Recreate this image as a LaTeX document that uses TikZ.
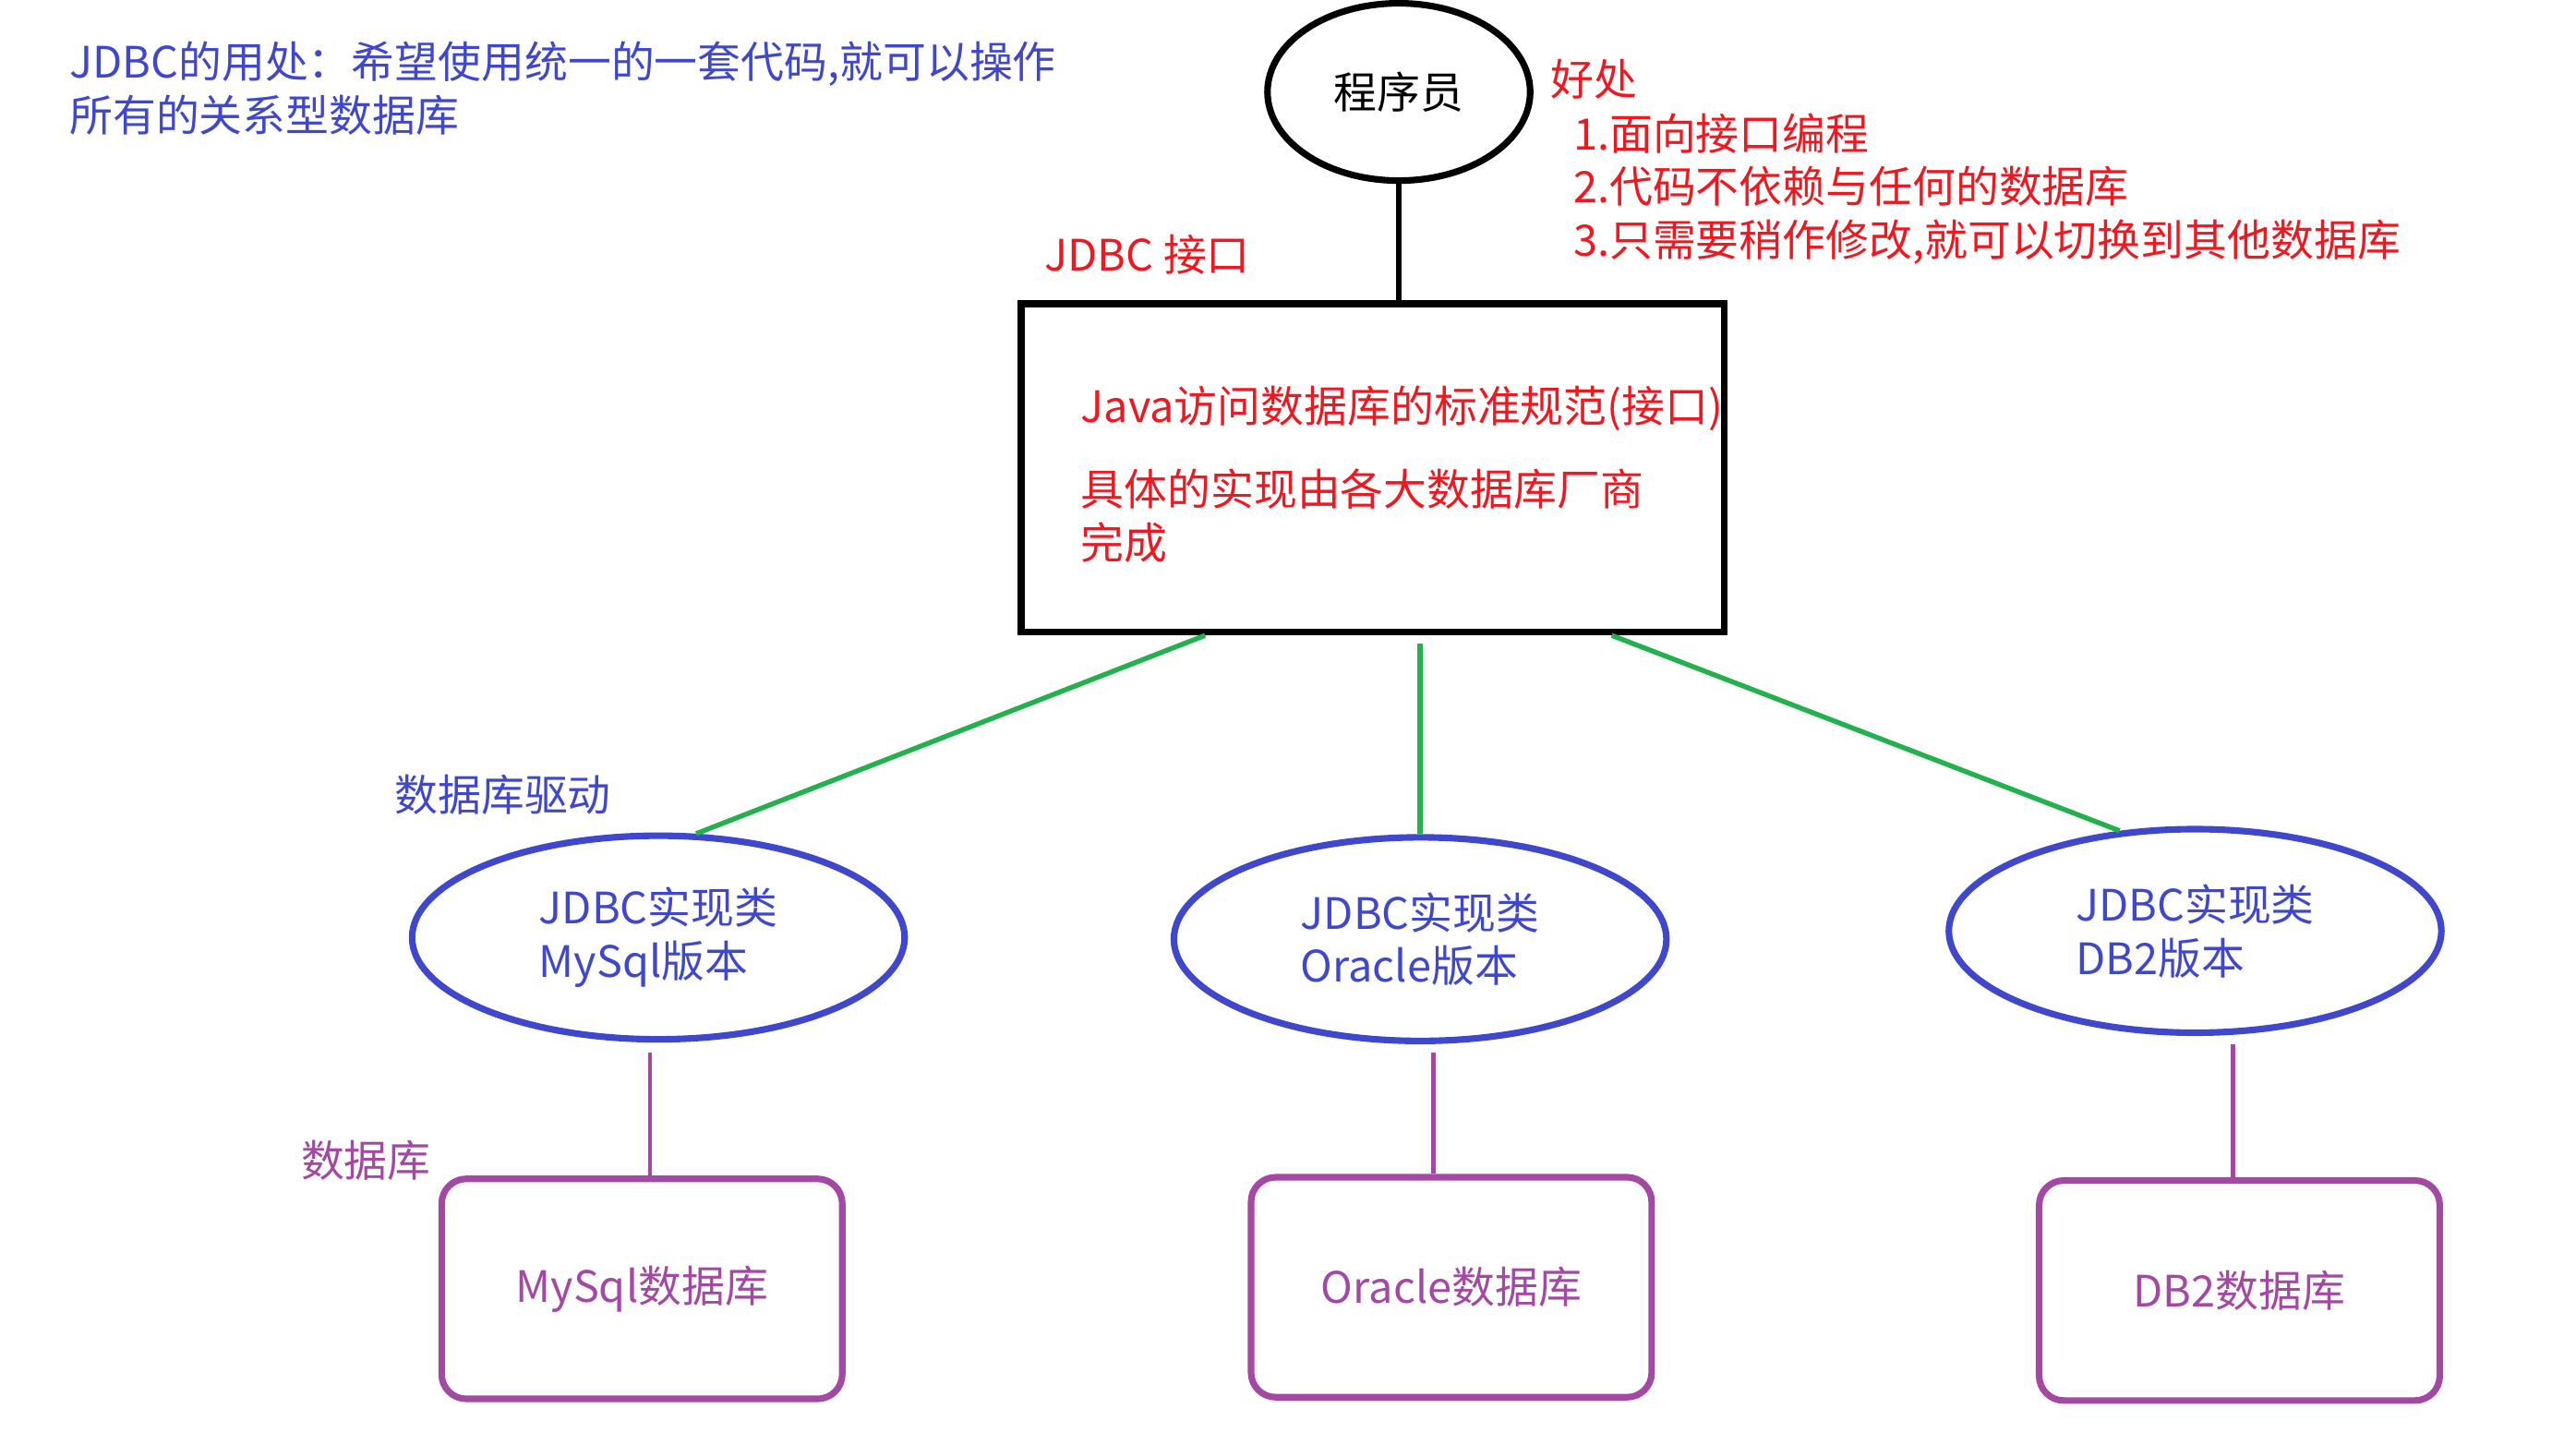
\documentclass[tikz,border=0pt]{standalone}
\usepackage{fontspec}
\setmainfont{Noto Sans CJK SC}
\usetikzlibrary{calc,positioning,shapes.geometric}
\definecolor{jblue}{RGB}{63,72,204}
\definecolor{jgreen}{RGB}{34,177,76}
\definecolor{jpurple}{RGB}{163,73,164}
\definecolor{jred}{RGB}{240,24,32}
\tikzset{
	txt/.style={font=\fontsize{15}{18.5}\selectfont, inner sep=0pt, anchor=west, align=left},
	coder/.style={ellipse, draw, line width=0.8mm, minimum width=32mm, minimum height=21.6mm, inner sep=0pt, font=\fontsize{15}{18.5}\selectfont},
	spec/.style={rectangle, draw, line width=0.8mm, minimum width=85.6mm, minimum height=40mm},
	driver/.style={ellipse, draw=jblue, line width=0.8mm, minimum width=60mm, minimum height=24.8mm, inner sep=0pt, text=jblue, align=left, font=\fontsize{15}{18.5}\selectfont},
	dbbox/.style={rectangle, rounded corners=3mm, draw=jpurple, line width=0.8mm, minimum width=48.8mm, minimum height=26.8mm, text=jpurple, font=\fontsize{15}{18.5}\selectfont}
}

\begin{document}
\begin{tikzpicture}[x=0.2mm, y=-0.2mm]
		%%%%% START %%%%%
		\useasboundingbox (0, 0) rectangle (1569, 880);
		
		\node[txt, text=jblue] (usage) at (42, 54) {JDBC的用处：希望使用统一的一套代码,就可以操作\\所有的关系型数据库};
		
		\node[coder] (prog) at (852, 56) {程序员};
		\node[txt, text=jred] (gain) at (944, 48) {好处};
		\node[txt, text=jred] (gainlist) at (958, 115) {1.面向接口编程\\2.代码不依赖与任何的数据库\\3.只需要稍作修改,就可以切换到其他数据库};
		
		\node[txt, text=jred] (apiname) at (636, 155) {JDBC 接口};
		\node[spec] (box) at (836, 285) {};
		\node[txt, text=jred] (rule) at (658, 249) {Java访问数据库的标准规范(接口)};
		\node[txt, text=jred] (vendor) at (658, 314) {具体的实现由各大数据库厂商\\完成};
		\draw[line width=0.6mm] (prog.south) -- (prog.south |- box.north);
		
		\node[txt, text=jblue] (drvname) at (240, 484) {数据库驱动};
		\node[driver] (drvA) at (401, 571) {JDBC实现类\\MySql版本};
		\node[driver] (drvB) at (865, 572) {JDBC实现类\\Oracle版本};
		\node[driver] (drvC) at (1337, 567) {JDBC实现类\\DB2版本};
		
		\draw[jgreen, line width=0.6mm] (box.225) -- (drvA.70);
		\draw[jgreen, line width=0.6mm, shorten >=1mm] (drvB.north) -- (drvB.north |- box.south);
		\draw[jgreen, line width=0.6mm] (box.325) -- (drvC.127);
		
		\node[txt, text=jpurple] (dbname) at (183, 707) {数据库};
		\node[dbbox] (dbA) at (391, 785) {MySql数据库};
		\node[dbbox] (dbB) at (884, 784) {Oracle数据库};
		\node[dbbox] (dbC) at (1364, 786) {DB2数据库};
		
		\draw[jpurple, line width=0.5mm, shorten >=1.2mm] ([xshift=1mm]dbA.north) -- ([xshift=1mm]dbA.north |- drvA.south);
		\draw[jpurple, line width=0.5mm, shorten >=1mm] ([xshift=-2.2mm]dbB.north) -- ([xshift=-2.2mm]dbB.north |- drvB.south);
		\draw[jpurple, line width=0.5mm, shorten >=1mm] ([xshift=-0.8mm]dbC.north) -- ([xshift=-0.8mm]dbC.north |- drvC.south);
		
		%%%%% END %%%%%
	\end{tikzpicture}
\end{document}
